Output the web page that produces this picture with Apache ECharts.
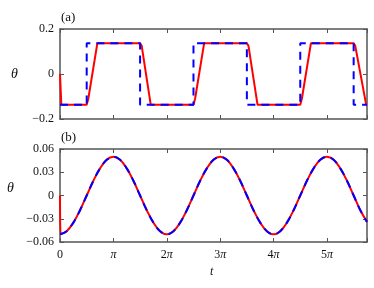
<!DOCTYPE html>
<html><head><meta charset="utf-8">
<script src="https://cdn.jsdelivr.net/npm/echarts@6/dist/echarts.min.js"></script>
<style>html,body{margin:0;padding:0;background:#fff}#c{width:374px;height:288px}</style>
</head><body><div id="c"></div>
<script>
// t in units of pi
const xTicks = [0, 1, 2, 3, 4, 5];
const xTickCoef = ['0', '', '2', '3', '4', '5'];
const yTicksA = [-0.2, 0, 0.2];
const yTicksB = [-0.06, -0.03, 0, 0.03, 0.06];

// panel (a)
const blueA_t = [0, 0.5, 0.5, 1.5, 1.5, 2.5, 2.5, 3.5, 3.5, 4.5, 4.5, 5.5, 5.5, 5.75];
const blueA_v = [-0.137, -0.137, 0.137, 0.137, -0.137, -0.137, 0.137, 0.137, -0.137, -0.137, 0.137, 0.137, -0.137, -0.137];
const redA_t = [0, 0.025, 0.5, 0.53, 0.7, 1.5, 1.53, 1.7, 2.5, 2.53, 2.7, 3.5, 3.53, 3.7, 4.5, 4.53, 4.7, 5.5, 5.53, 5.735, 5.75];
const redA_v = [0, -0.137, -0.137, -0.11, 0.137, 0.137, 0.125, -0.137, -0.137, -0.11, 0.137, 0.137, 0.125, -0.137, -0.137, -0.11, 0.137, 0.137, 0.125, -0.137, -0.137];

// panel (b)
const tB = [0,0.125,0.25,0.375,0.5,0.625,0.75,0.875,1,1.125,1.25,1.375,1.5,1.625,1.75,1.875,2,2.125,2.25,2.375,2.5,2.625,2.75,2.875,3,3.125,3.25,3.375,3.5,3.625,3.75,3.875,4,4.125,4.25,4.375,4.5,4.625,4.75,4.875,5,5.125,5.25,5.375,5.5,5.625,5.75];
const blueB = [-0.05,-0.046,-0.035,-0.019,0,0.019,0.035,0.046,0.05,0.046,0.035,0.019,0,-0.019,-0.035,-0.046,
               -0.05,-0.046,-0.035,-0.019,0,0.019,0.035,0.046,0.05,0.046,0.035,0.019,0,-0.019,-0.035,-0.046,
               -0.05,-0.046,-0.035,-0.019,0,0.019,0.035,0.046,0.05,0.046,0.035,0.019,0,-0.019,-0.034];
const redB_start_t = [0, 0.012];
const redB_start_v = [0, -0.05];

const zip = (a, b) => a.map((x, i) => [x, b[i]]);
const redB = zip(redB_start_t, redB_start_v).concat(zip(tB.slice(1), blueB.slice(1)));

const serif = 'Liberation Serif';
const axisCol = '#555';
function fmtX(v) {
  const i = xTicks.indexOf(v);
  if (i < 0) return '';
  if (v === 0) return '0';
  return xTickCoef[i] + '{p|π}';
}
function fmtY(v) {
  if (Math.abs(v) < 1e-9) return '0';
  const s = String(Math.abs(+v.toFixed(4)));
  return (v < 0 ? '\u2212' : '') + s;
}
function xAx(gi, pos, labels) {
  return {
    type: 'value', gridIndex: gi, position: pos, min: 0, max: 5.75, interval: 1,
    axisLine: { show: true, onZero: false, lineStyle: { color: axisCol, width: 1.5 } },
    axisTick: { show: true, inside: true, length: 4, lineStyle: { color: axisCol, width: 1 } },
    axisLabel: { show: labels, formatter: fmtX, color: '#111', fontFamily: serif, fontSize: 12, margin: 7,
      rich: { p: { fontFamily: serif, fontStyle: 'italic', fontSize: 12, color: '#111' } } },
    splitLine: { show: false }
  };
}
function yAx(gi, pos, min, max, interval, labels) {
  return {
    type: 'value', gridIndex: gi, position: pos, min: min, max: max, interval: interval,
    axisLine: { show: true, onZero: false, lineStyle: { color: axisCol, width: 1.5 } },
    axisTick: { show: true, inside: true, length: 4, lineStyle: { color: axisCol, width: 1 } },
    axisLabel: { show: labels, formatter: fmtY, color: '#111', fontFamily: serif, fontSize: 12, margin: 6 },
    splitLine: { show: false }
  };
}
const chart = echarts.init(document.getElementById('c'), null, { renderer: 'canvas' });
chart.setOption({
  animation: false,
  backgroundColor: '#fff',
  grid: [
    { left: 60, top: 29, width: 307, height: 90 },
    { left: 60, top: 149, width: 307, height: 93 }
  ],
  xAxis: [xAx(0, 'bottom', false), xAx(0, 'top', false), xAx(1, 'bottom', true), xAx(1, 'top', false)],
  yAxis: [yAx(0, 'left', -0.2, 0.2, 0.2, true), yAx(0, 'right', -0.2, 0.2, 0.2, false),
          yAx(1, 'left', -0.06, 0.06, 0.03, true), yAx(1, 'right', -0.06, 0.06, 0.03, false)],
  graphic: [
    { type: 'text', left: 61, top: 11, style: { text: '(a)', font: '13px ' + serif, fill: '#111' } },
    { type: 'text', left: 61, top: 131, style: { text: '(b)', font: '13px ' + serif, fill: '#111' } },
    { type: 'text', left: 11, top: 67, style: { text: 'θ', font: 'italic 14px ' + serif, fill: '#111' } },
    { type: 'text', left: 7, top: 181, style: { text: 'θ', font: 'italic 14px ' + serif, fill: '#111' } },
    { type: 'text', left: 210, top: 266, style: { text: 't', font: 'italic 12px ' + serif, fill: '#111' } }
  ],
  series: [
    { type: 'line', xAxisIndex: 0, yAxisIndex: 0, data: zip(redA_t, redA_v), showSymbol: false,
      lineStyle: { color: '#ff0000', width: 2 } },
    { type: 'line', xAxisIndex: 0, yAxisIndex: 0, data: zip(blueA_t, blueA_v), showSymbol: false,
      lineStyle: { color: '#0000ff', width: 2, type: [8, 6] } },
    { type: 'line', xAxisIndex: 2, yAxisIndex: 2, data: redB, showSymbol: false, smooth: 0.4,
      lineStyle: { color: '#ff0000', width: 2 } },
    { type: 'line', xAxisIndex: 2, yAxisIndex: 2, data: zip(tB, blueB), showSymbol: false, smooth: 0.4,
      lineStyle: { color: '#0000ff', width: 2, type: [8, 6] } }
  ]
});
</script></body></html>
